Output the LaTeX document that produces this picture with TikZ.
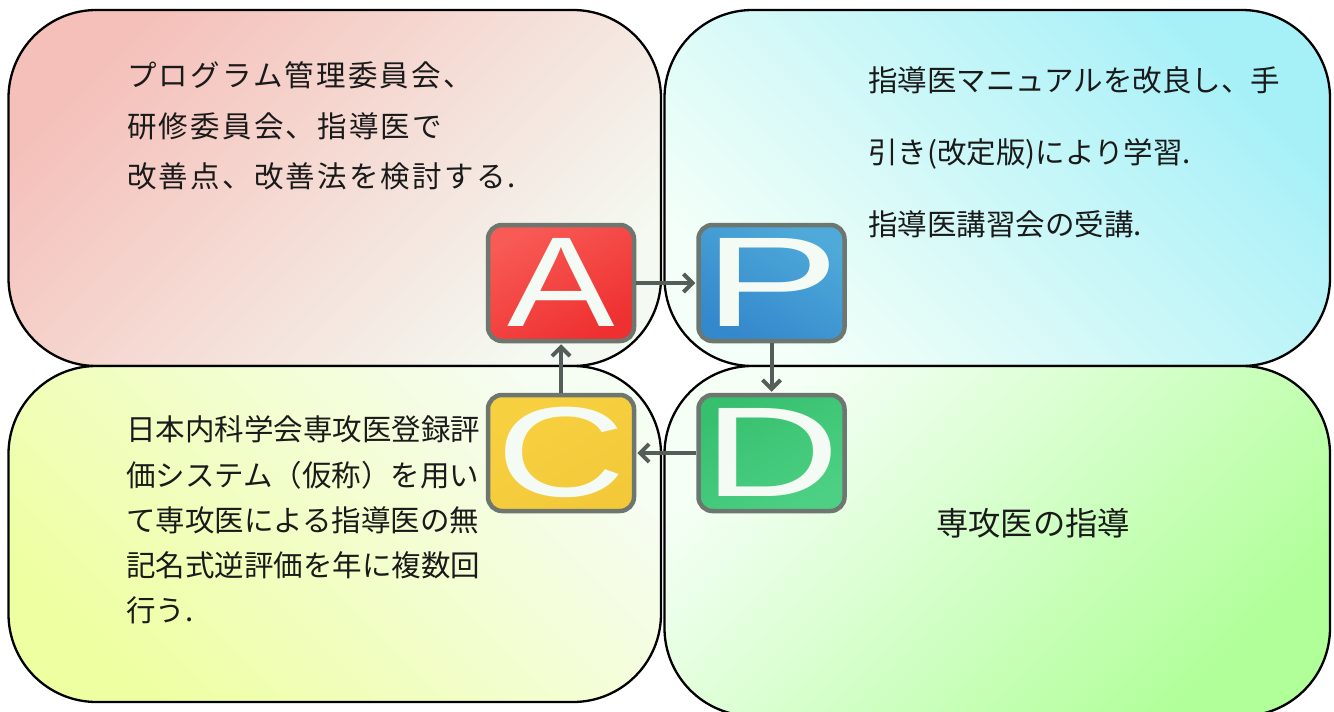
\documentclass[tikz,border=0pt]{standalone}
\usepackage{fontspec}
\setmainfont{Liberation Sans}
\newfontfamily\jpfont{Noto Sans CJK JP}
\newfontfamily\jpwide[LetterSpace=7.5]{Noto Sans CJK JP}
\newfontfamily\letterfont{Liberation Sans}
\usetikzlibrary{arrows.meta}
\definecolor{tlc}{HTML}{F5C0BA}
\definecolor{tlw}{HTML}{F4F9F1}
\definecolor{trc}{HTML}{A6F0F8}
\definecolor{trw}{HTML}{F3FFF8}
\definecolor{blc}{HTML}{EEFFA2}
\definecolor{blw}{HTML}{F6FDF2}
\definecolor{brc}{HTML}{B0FF98}
\definecolor{brw}{HTML}{F5FFF6}
\definecolor{redA}{HTML}{F85A55}
\definecolor{redB}{HTML}{EE3030}
\definecolor{bluA}{HTML}{4FAAD9}
\definecolor{bluB}{HTML}{3488CC}
\definecolor{yelA}{HTML}{F7D040}
\definecolor{yelB}{HTML}{F3C93A}
\definecolor{grnA}{HTML}{36C06E}
\definecolor{grnB}{HTML}{4DD084}
\definecolor{sqborder}{HTML}{6E7670}
\definecolor{arrowc}{HTML}{545E58}
\definecolor{lettc}{HTML}{F3FBF4}
\definecolor{txt}{HTML}{1A1A1A}
\tikzset{
  quad/.style={draw=black, line width=2.3pt, rounded corners=88pt, inner sep=0pt},
  sq/.style={draw=sqborder, line width=4.5pt, rounded corners=14pt, minimum width=146pt, minimum height=116pt, inner sep=0pt, text=lettc, font=\letterfont\fontsize{128}{128}\selectfont},
  arr/.style={draw=arrowc, line width=4pt, -{Straight Barb[length=9pt,width=18pt,line width=4pt]}, shorten >=1pt},
  jtxt/.style={anchor=base west, inner sep=0pt, text=txt, font=\jpfont\fontsize{29.5}{30}\selectfont},
  jwide/.style={jtxt, font=\jpwide\fontsize{29.5}{30}\selectfont},
  jbig/.style={jtxt, font=\jpfont\fontsize{32.3}{33}\selectfont}
}
\begin{document}
\begin{tikzpicture}[x=1pt,y=-1pt]
\useasboundingbox (0,0) rectangle (1334,712);
% quadrant boxes
\node[quad, minimum width=652.5pt, minimum height=356pt, top color=tlc, bottom color=tlw, shading angle=45] (tl) at (334.75,188) {};
\node[quad, minimum width=665.5pt, minimum height=356pt, top color=trc, bottom color=trw, shading angle=-45] (tr) at (997.25,188) {};
\node[quad, minimum width=652.5pt, minimum height=336pt, top color=blw, bottom color=blc, shading angle=-45] (bl) at (334.75,534) {};
\node[quad, minimum width=665.5pt, minimum height=350pt, top color=brw, bottom color=brc, shading angle=45] (br) at (997.25,541) {};
% letter squares
\node[sq, top color=redA, bottom color=redB, shading angle=30] (A) at (561,283) {\raisebox{2pt}{\scalebox{1.26}[1]{A}}};
\node[sq, top color=bluA, bottom color=bluB, shading angle=-30] (P) at (771.5,283) {\raisebox{2pt}{\scalebox{1.6}[1]{P}}};
\node[sq, top color=yelA, bottom color=yelB, shading angle=30] (C) at (561,453) {\raisebox{2pt}{\scalebox{1.4}[1]{C}}};
\node[sq, top color=grnA, bottom color=grnB, shading angle=30] (D) at (771.5,453) {\raisebox{2pt}{\scalebox{1.48}[1]{D}}};
% arrows
\draw[arr] (A.east) -- (P.west);
\draw[arr] (P.south) -- (D.north);
\draw[arr] (D.west) -- (C.east);
\draw[arr] (C.north) -- (A.south);
% texts
\node[jwide] (tl1) at (127,86) {プログラム管理委員会、};
\node[jwide] (tl2) at (127,137) {研修委員会、指導医で};
\node[jwide] (tl3) at (127,187) {改善点、改善法を検討する.};
\node[jtxt] (tr1) at (868,91) {指導医マニュアルを改良し、手};
\node[jtxt] (tr2) at (868,163) {引き(改定版)により学習.};
\node[jtxt] (tr3) at (868,235) {指導医講習会の受講.};
\node[jtxt] (bl1) at (126,440) {日本内科学会専攻医登録評};
\node[jtxt] (bl2) at (126,486) {価システム（仮称）を用い};
\node[jtxt] (bl3) at (126,531) {て専攻医による指導医の無};
\node[jtxt] (bl4) at (126,576) {記名式逆評価を年に複数回};
\node[jtxt] (bl5) at (126,621) {行う.};
\node[jbig, anchor=base] (br1) at (1033,535) {専攻医の指導};
\end{tikzpicture}
\end{document}
